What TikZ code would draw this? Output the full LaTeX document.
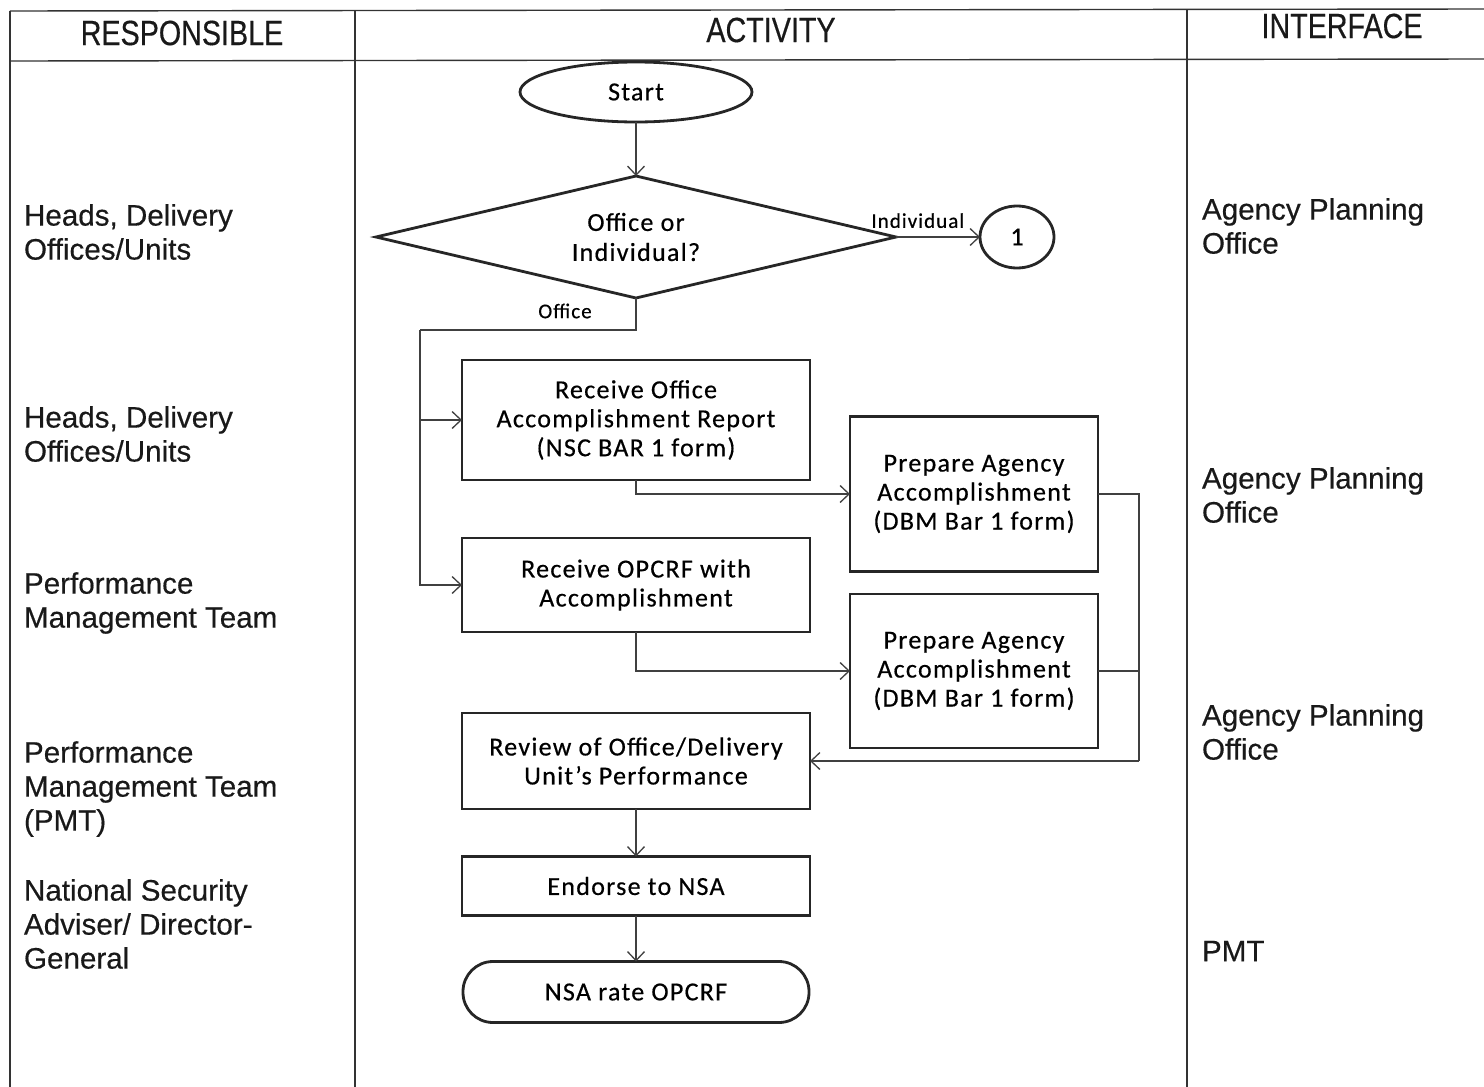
\documentclass[tikz,border=0pt]{standalone}
\usepackage{fontspec}
\setmainfont[FakeBold=0.4]{Liberation Sans}
\newfontfamily\flowfont[LetterSpace=5,FakeBold=0.5]{Carlito}
\newfontfamily\headfont[FakeStretch=0.82,FakeBold=0.4]{Liberation Sans}
\usetikzlibrary{shapes.geometric,arrows.meta}

\begin{document}
\begin{tikzpicture}[x=1pt,y=-1pt,
  every node/.style={inner sep=0pt,outer sep=0pt},
  grid/.style={line width=1.4pt,draw=black!80},
  head/.style={font=\headfont\fontsize{35}{40}\selectfont,text=black!90},
  lane/.style={anchor=west,align=left,font=\fontsize{29.6}{34}\selectfont,text=black!90},
  shapeline/.style={draw=black!85,line width=2.8pt,fill=white},
  box/.style={shapeline,rectangle,minimum width=348pt,align=center,
    font=\flowfont\fontsize{26}{29}\selectfont,text=black},
  sidebox/.style={box,minimum width=248pt},
  terminal/.style={shapeline,ellipse,font=\flowfont\fontsize{26}{29}\selectfont,text=black},
  decision/.style={shapeline,diamond,shape aspect=4.26,align=center,
    font=\flowfont\fontsize{26}{30}\selectfont,text=black},
  lbl/.style={font=\flowfont\fontsize{21}{24}\selectfont,text=black},
  link/.style={line width=1.3pt,draw=black!75},
  flow/.style={link,-{Straight Barb[length=9pt,width=17pt,line width=1.3pt]}}
]
\useasboundingbox (0,0) rectangle (1484,1087);
\fill[white] (0,0) rectangle (1484,1087);

% table frame
\draw[grid] (10,11) -- (1484,9);
\draw[grid] (10,61) -- (1484,59);
\draw[grid] (10,11) -- (10,1087);
\draw[grid] (355,11) -- (355,1087);
\draw[grid] (1187,10) -- (1187,1087);

% column headings
\node[head] (hresp) at (182,33) {RESPONSIBLE};
\node[head] (hact) at (771,30) {ACTIVITY};
\node[head] (hintf) at (1342,26) {INTERFACE};

% responsible column
\node[lane] (r1) at (24,232) {Heads, Delivery\\Offices/Units};
\node[lane] (r2) at (24,434) {Heads, Delivery\\Offices/Units};
\node[lane] (r3) at (24,603) {Performance\\Management Team};
\node[lane] (r4) at (24,789) {Performance\\Management Team\\(PMT)};
\node[lane] (r5) at (24,924) {National Security\\Adviser/ Director-\\General};

% interface column
\node[lane] (i1) at (1202,226) {Agency Planning\\Office};
\node[lane] (i2) at (1202,495) {Agency Planning\\Office};
\node[lane] (i3) at (1202,732) {Agency Planning\\Office};
\node[lane] (i4) at (1202,951) {PMT};

% activity flow
\node[terminal,minimum width=232pt,minimum height=60pt] (start) at (636,92) {Start};
\node[decision,minimum width=520pt,minimum height=122pt] (dec) at (636,237) {Office or\\Individual?};
\node[terminal,minimum width=74pt,minimum height=62pt] (conn) at (1017,237) {1};
\node[box,minimum height=120pt] (recv1) at (636,420) {Receive Office\\Accomplishment Report\\(NSC BAR 1 form)};
\node[box,minimum height=94pt] (recv2) at (636,585) {Receive OPCRF with\\Accomplishment};
\node[sidebox,minimum height=155pt] (prep1) at (974,494) {Prepare Agency\\Accomplishment\\(DBM Bar 1 form)};
\node[sidebox,minimum height=154pt] (prep2) at (974,671) {Prepare Agency\\Accomplishment\\(DBM Bar 1 form)};
\node[box,minimum height=96pt] (review) at (636,761) {Review of Office/Delivery\\Unit’s Performance};
\node[box,minimum height=59pt] (endorse) at (636,886) {Endorse to NSA};
\node[box,minimum height=61pt,minimum width=346pt,rounded corners=30pt] (rate) at (636,992) {NSA rate OPCRF};

\node[lbl] (offlbl) at (565,311) {Office};
\coordinate (split) at (420,330);
\coordinate (rail) at (1139,761);

% connectors
\draw[flow] (start) -- (dec);
\draw[flow] (dec.east) -- node[lbl,pos=0.26,above=9pt] (indlbl) {Individual} (conn);
\draw[link] (dec.south) |- (split);
\draw[flow] (split) |- (recv1.west);
\draw[flow] (split) |- (recv2.west);
\draw[flow] (recv1.south) |- (prep1.west);
\draw[flow] (recv2.south) |- (prep2.west);
\draw[link] (prep1.east) -| (rail);
\draw[link] (prep2.east) -- (prep2.east -| rail);
\draw[flow] (rail) -- (review.east);
\draw[flow] (review) -- (endorse);
\draw[flow] (endorse) -- (rate);
\end{tikzpicture}
\end{document}
